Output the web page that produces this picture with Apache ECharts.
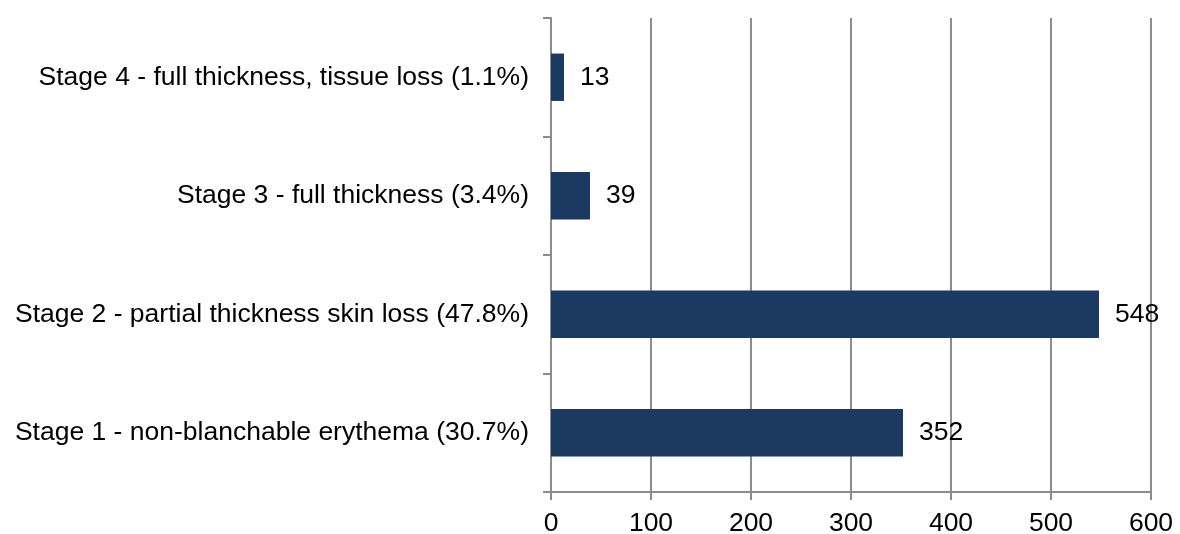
<!DOCTYPE html>
<html>
<head>
<meta charset="utf-8">
<script src="https://cdn.jsdelivr.net/npm/echarts@6/dist/echarts.min.js"></script>
<style>
  html, body { margin: 0; padding: 0; background: #fff; }
  #chart { width: 1180px; height: 534px; }
</style>
</head>
<body>
<div id="chart"></div>
<script>
// Pressure ulcer counts by stage (bottom to top)
const categories = [
  'Stage 1 - non-blanchable erythema (30.7%)',
  'Stage 2 - partial thickness skin loss (47.8%)',
  'Stage 3 - full thickness (3.4%)',
  'Stage 4 - full thickness, tissue loss (1.1%)'
];
const counts = [352, 548, 39, 13];
const xTicks = { min: 0, max: 600, interval: 100 };

const chart = echarts.init(document.getElementById('chart'));
const axisGrey = '#8c8c8c';
const font = 'Liberation Sans, Arial, sans-serif';
const fontSize = 26.5;

chart.setOption({
  animation: false,
  grid: { left: 551, right: 29, top: 18, bottom: 42, containLabel: false, outerBoundsMode: 'none' },
  xAxis: {
    type: 'value',
    min: xTicks.min, max: xTicks.max, interval: xTicks.interval,
    axisLine: { show: true, lineStyle: { color: axisGrey, width: 2 } },
    axisTick: { show: true, length: 8, lineStyle: { color: axisGrey, width: 2 } },
    splitLine: { show: true, lineStyle: { color: axisGrey, width: 2 } },
    axisLabel: { color: '#000', fontSize: fontSize, fontFamily: font, margin: 18 }
  },
  yAxis: {
    type: 'category',
    data: categories,
    axisLine: { show: true, lineStyle: { color: axisGrey, width: 2 } },
    axisTick: { show: true, length: 8, inside: false, alignWithLabel: false, lineStyle: { color: axisGrey, width: 2 } },
    axisLabel: { color: '#000', fontSize: fontSize, fontFamily: font, margin: 22, padding: [8, 0, 0, 0] }
  },
  series: [{
    type: 'bar',
    data: counts,
    barWidth: '40%',
    itemStyle: { color: '#1b3961' },
    label: {
      show: true, position: 'right', distance: 16,
      color: '#000', fontSize: fontSize, fontFamily: font, padding: [4, 0, 0, 0]
    }
  }]
});
</script>
</body>
</html>
